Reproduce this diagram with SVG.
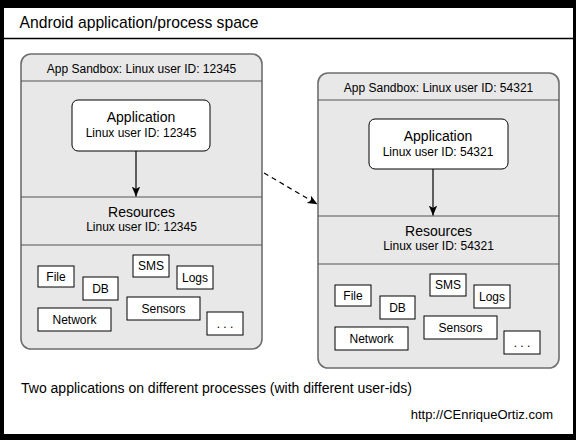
<svg xmlns="http://www.w3.org/2000/svg" width="576" height="440" viewBox="0 0 576 440">
  <style>
    text { font-family: "Liberation Sans", Arial, sans-serif; fill: #000; }
    .sb { fill: #e8e8e8; stroke: #6e6e6e; stroke-width: 1.6; }
    .div { stroke: #555; stroke-width: 1.2; fill: none; }
    .app { fill: #fff; stroke: #000; stroke-width: 1; }
    .item { fill: #fff; stroke: #000; stroke-width: 1; }
    .t12 { font-size: 12px; text-anchor: middle; }
    .t14 { font-size: 14px; text-anchor: middle; }
    .conn { stroke: #000; stroke-width: 1.2; fill: none; }
  </style>
  <defs>
    <marker id="ah" markerUnits="userSpaceOnUse" markerWidth="12" markerHeight="10" refX="10" refY="5" orient="auto">
      <path d="M0,0.8 L10,5 L0,9.2 L2.5,5 Z" fill="#000"/>
    </marker>
  </defs>

  <rect x="0" y="0" width="576" height="440" fill="#000"/>
  <rect x="4" y="8" width="569" height="426" fill="#fff"/>

  <g id="title">
    <text x="19.5" y="28" style="font-size:15.7px">Android application/process space</text>
    <line x1="4" y1="38.5" x2="573" y2="38.5" stroke="#000" stroke-width="1.3"/>
  </g>

  <g id="sandbox1">
    <rect class="sb" x="21" y="54" width="241" height="295" rx="10"/>
    <line class="div" x1="21" y1="81" x2="262" y2="81"/>
    <line class="div" x1="21" y1="197" x2="262" y2="197"/>
    <line class="div" x1="21" y1="245" x2="262" y2="245"/>
    <text class="t12" x="141.5" y="72.5">App Sandbox: Linux user ID: 12345</text>
    <text class="t14" x="141.5" y="217">Resources</text>
    <text class="t12" x="141.5" y="231">Linux user ID: 12345</text>
  </g>
  <g id="app1">
    <rect class="app" x="72" y="100" width="138" height="51" rx="6"/>
    <text class="t14" x="141" y="122">Application</text>
    <text class="t12" x="141" y="137">Linux user ID: 12345</text>
  </g>
  <g id="res1">
    <rect class="item" x="38" y="266" width="36" height="21"/><text class="t12" x="56" y="281">File</text>
    <rect class="item" x="83" y="277" width="35" height="23"/><text class="t12" x="100.5" y="293">DB</text>
    <rect class="item" x="133" y="255" width="36" height="22"/><text class="t12" x="151" y="270">SMS</text>
    <rect class="item" x="177" y="266" width="36" height="23"/><text class="t12" x="195" y="282">Logs</text>
    <rect class="item" x="38" y="308" width="73" height="23"/><text class="t12" x="74.5" y="324">Network</text>
    <rect class="item" x="127" y="297" width="73" height="23"/><text class="t12" x="163.5" y="313">Sensors</text>
    <rect class="item" x="207" y="312" width="36" height="23"/><text class="t12" x="225" y="328">. . .</text>
  </g>

  <g id="sandbox2">
    <rect class="sb" x="318" y="73" width="241" height="295" rx="10"/>
    <line class="div" x1="318" y1="100" x2="559" y2="100"/>
    <line class="div" x1="318" y1="216" x2="559" y2="216"/>
    <line class="div" x1="318" y1="264" x2="559" y2="264"/>
    <text class="t12" x="438.5" y="91.5">App Sandbox: Linux user ID: 54321</text>
    <text class="t14" x="438.5" y="236">Resources</text>
    <text class="t12" x="438.5" y="250">Linux user ID: 54321</text>
  </g>
  <g id="app2">
    <rect class="app" x="369" y="119" width="139" height="50" rx="6"/>
    <text class="t14" x="438" y="141">Application</text>
    <text class="t12" x="438" y="156">Linux user ID: 54321</text>
  </g>
  <g id="res2">
    <rect class="item" x="335" y="285" width="36" height="21"/><text class="t12" x="353" y="300">File</text>
    <rect class="item" x="380" y="296" width="35" height="23"/><text class="t12" x="397.5" y="312">DB</text>
    <rect class="item" x="430" y="274" width="36" height="22"/><text class="t12" x="448" y="289">SMS</text>
    <rect class="item" x="474" y="285" width="36" height="23"/><text class="t12" x="492" y="301">Logs</text>
    <rect class="item" x="335" y="327" width="73" height="23"/><text class="t12" x="371.5" y="343">Network</text>
    <rect class="item" x="424" y="316" width="73" height="23"/><text class="t12" x="460.5" y="332">Sensors</text>
    <rect class="item" x="504" y="331" width="36" height="23"/><text class="t12" x="522" y="347">. . .</text>
  </g>

  <g id="connectors">
    <line class="conn" x1="136" y1="151" x2="136" y2="196.5" marker-end="url(#ah)"/>
    <line class="conn" x1="433" y1="169" x2="433" y2="215.5" marker-end="url(#ah)"/>
    <line class="conn" x1="264" y1="173" x2="317.5" y2="204.3" stroke-dasharray="5,4" marker-end="url(#ah)"/>
  </g>

  <g id="captions">
    <text x="21" y="393" style="font-size:14px">Two applications on different processes (with different user-ids)</text>
    <text x="553" y="419" style="font-size:13px;text-anchor:end">http://CEnriqueOrtiz.com</text>
  </g>
</svg>
